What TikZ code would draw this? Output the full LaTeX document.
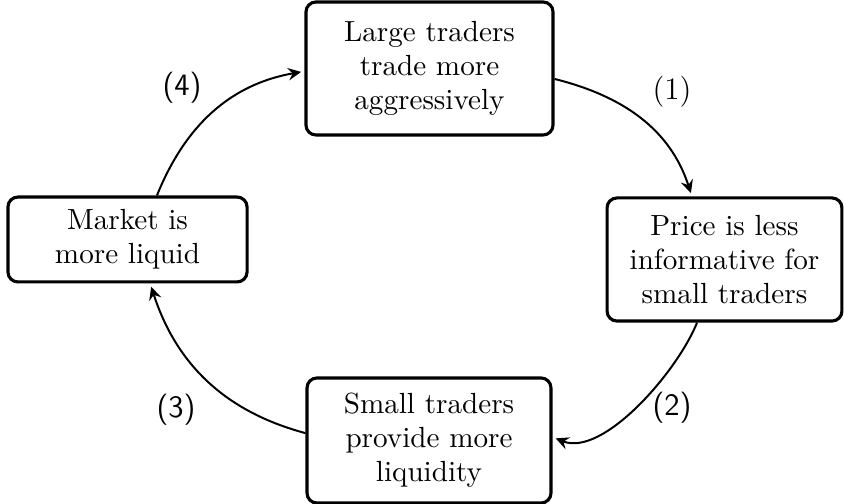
\documentclass[tikz,border=0pt]{standalone}
\usetikzlibrary{arrows.meta}
\begin{document}
\begin{tikzpicture}[x=0.3534pt, y=-0.3534pt,
  box/.style={draw, line width=1.1pt, rounded corners=3.5pt, align=center, inner sep=0pt, font=\fontsize{10.3}{12}\selectfont},
  conn/.style={line width=0.7pt, -{Stealth[length=4.6pt,width=4.4pt,inset=1.6pt]}, shorten >=1.2pt},
  lab/.style={font=\fontsize{11}{13}\selectfont},
  slab/.style={font=\fontsize{11}{13}\sffamily}]
\useasboundingbox (0,0) rectangle (844,504);
\node[box, minimum width=87.3pt, minimum height=47pt] (top) at (429.5,68.5) {Large traders\\trade more\\aggressively};
\node[box, minimum width=83pt, minimum height=43.5pt] (right) at (724.5,259.5) {Price is less\\informative for\\small traders};
\node[box, minimum width=86.2pt, minimum height=44.2pt] (bottom) at (429,440.5) {Small traders\\provide more\\liquidity};
\node[box, minimum width=84.5pt, minimum height=30pt] (left) at (127.5,239.5) {Market is\\more liquid};
\draw[conn] ([yshift=-3.7pt]top.east) to[out=-14, in=108] ([xshift=-11.5pt]right.north);
\draw[conn] ([xshift=-9.7pt]right.south) to[out=-112, in=-22, looseness=0.75] ([yshift=1.2pt]bottom.east);
\draw[conn] ([yshift=2.6pt]bottom.west) to[out=165, in=-72] ([xshift=8pt]left.south);
\draw[conn] ([xshift=10.4pt]left.north) to[out=68, in=190] ([yshift=-1pt]top.west);
\node[lab] (l1) at (672,92) {(1)};
\node[slab] (l2) at (672,408) {(2)};
\node[slab] (l3) at (176,410) {(3)};
\node[slab] (l4) at (182,88) {(4)};
\end{tikzpicture}
\end{document}
